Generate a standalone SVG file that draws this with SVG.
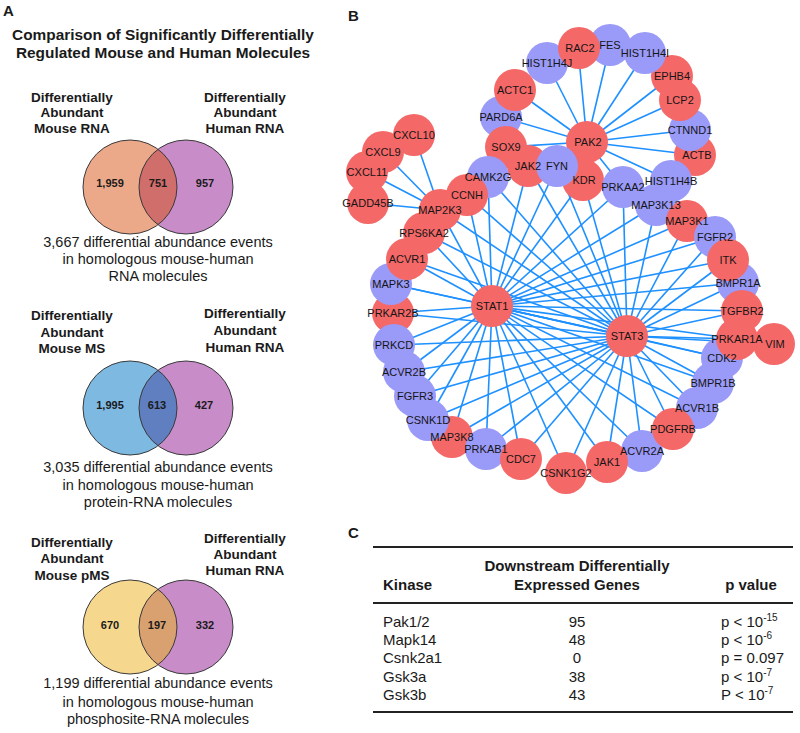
<svg xmlns="http://www.w3.org/2000/svg" width="800" height="733" viewBox="0 0 800 733">
<style>
.t{font-family:"Liberation Sans",Arial,sans-serif;fill:#1a1a1a}
.pl{font-size:15px;font-weight:700}
.ttl{font-size:15.4px;font-weight:700;text-anchor:middle}
.vl{font-size:13.5px;font-weight:700;text-anchor:middle}
.vn{font-size:11px;font-weight:700;text-anchor:middle}
.cap{font-size:14.5px;text-anchor:middle}
.th{font-size:15px;font-weight:700}
.td{font-size:15px}
.mid{text-anchor:middle}
.vs{stroke:#3a3a3a;stroke-width:1;fill:none}
.edges line{stroke:#1e90ff;stroke-width:1.6}
.nr{fill:#f56868}
.nb{fill:#9a9af8}
.nl text{font-family:"Liberation Sans",Arial,sans-serif;font-size:11px;text-anchor:middle;fill:#151515}
.rule{stroke:#222;stroke-width:2}
</style>
<defs>
<clipPath id="c1"><circle cx="130" cy="187" r="47"/></clipPath>
<clipPath id="c2"><circle cx="130" cy="408" r="47"/></clipPath>
<clipPath id="c3"><circle cx="130" cy="627" r="47"/></clipPath>
</defs>
<rect width="800" height="733" fill="#fff"/>

<g id="panelA">
<text class="t pl" x="3" y="16">A</text>
<text class="t ttl" x="163" y="40">Comparison of Significantly Differentially</text>
<text class="t ttl" x="163" y="58">Regulated Mouse and Human Molecules</text>

<g id="venn1">
<text class="t vl" x="72" y="102">Differentially</text>
<text class="t vl" x="72" y="117">Abundant</text>
<text class="t vl" x="72" y="133">Mouse RNA</text>
<text class="t vl" x="245" y="102">Differentially</text>
<text class="t vl" x="245" y="117">Abundant</text>
<text class="t vl" x="245" y="133">Human RNA</text>
<circle cx="130" cy="187" r="47" fill="#eca98a"/>
<circle cx="186" cy="187" r="47" fill="#c88dc8"/>
<circle cx="186" cy="187" r="47" fill="#d06e6c" clip-path="url(#c1)"/>
<circle class="vs" cx="130" cy="187" r="47"/>
<circle class="vs" cx="186" cy="187" r="47"/>
<text class="t vn" x="110" y="187">1,959</text>
<text class="t vn" x="158" y="187">751</text>
<text class="t vn" x="205" y="187">957</text>
<text class="t cap" x="158" y="247">3,667 differential abundance events</text>
<text class="t cap" x="158" y="264">in homologous mouse-human</text>
<text class="t cap" x="158" y="281">RNA molecules</text>
</g>

<g id="venn2">
<text class="t vl" x="72" y="320">Differentially</text>
<text class="t vl" x="72" y="337">Abundant</text>
<text class="t vl" x="72" y="353">Mouse MS</text>
<text class="t vl" x="245" y="318">Differentially</text>
<text class="t vl" x="245" y="335">Abundant</text>
<text class="t vl" x="245" y="352">Human RNA</text>
<circle cx="130" cy="408" r="47" fill="#7eb9e2"/>
<circle cx="186" cy="408" r="47" fill="#c88dc8"/>
<circle cx="186" cy="408" r="47" fill="#5f7fc0" clip-path="url(#c2)"/>
<circle class="vs" cx="130" cy="408" r="47"/>
<circle class="vs" cx="186" cy="408" r="47"/>
<text class="t vn" x="110" y="409">1,995</text>
<text class="t vn" x="157" y="409">613</text>
<text class="t vn" x="204" y="409">427</text>
<text class="t cap" x="158" y="472">3,035 differential abundance events</text>
<text class="t cap" x="158" y="490">in homologous mouse-human</text>
<text class="t cap" x="158" y="507">protein-RNA molecules</text>
</g>

<g id="venn3">
<text class="t vl" x="72" y="547">Differentially</text>
<text class="t vl" x="72" y="563">Abundant</text>
<text class="t vl" x="72" y="580">Mouse pMS</text>
<text class="t vl" x="245" y="543">Differentially</text>
<text class="t vl" x="245" y="559">Abundant</text>
<text class="t vl" x="245" y="575">Human RNA</text>
<circle cx="130" cy="627" r="47" fill="#f6d78e"/>
<circle cx="186" cy="627" r="47" fill="#c88dc8"/>
<circle cx="186" cy="627" r="47" fill="#d9a070" clip-path="url(#c3)"/>
<circle class="vs" cx="130" cy="627" r="47" stroke="#888"/>
<circle class="vs" cx="186" cy="627" r="47"/>
<text class="t vn" x="110" y="629">670</text>
<text class="t vn" x="157" y="629">197</text>
<text class="t vn" x="205" y="629">332</text>
<text class="t cap" x="158" y="688">1,199 differential abundance events</text>
<text class="t cap" x="158" y="707">in homologous mouse-human</text>
<text class="t cap" x="158" y="724">phosphosite-RNA molecules</text>
</g>
</g>

<text class="t pl" x="348" y="21">B</text>
<g id="edges" class="edges">
<line x1="492" y1="306" x2="528" y2="166"/>
<line x1="492" y1="306" x2="557" y2="166"/>
<line x1="492" y1="306" x2="583" y2="180"/>
<line x1="492" y1="306" x2="488" y2="177"/>
<line x1="492" y1="306" x2="467" y2="195"/>
<line x1="492" y1="306" x2="440" y2="210"/>
<line x1="492" y1="306" x2="424" y2="233"/>
<line x1="492" y1="306" x2="407" y2="259"/>
<line x1="492" y1="306" x2="391" y2="284"/>
<line x1="492" y1="306" x2="393" y2="313"/>
<line x1="492" y1="306" x2="394" y2="345"/>
<line x1="492" y1="306" x2="404" y2="372"/>
<line x1="492" y1="306" x2="415" y2="396"/>
<line x1="492" y1="306" x2="428" y2="420"/>
<line x1="492" y1="306" x2="452" y2="437"/>
<line x1="492" y1="306" x2="486" y2="449"/>
<line x1="492" y1="306" x2="521" y2="459"/>
<line x1="492" y1="306" x2="566" y2="473"/>
<line x1="492" y1="306" x2="607" y2="462"/>
<line x1="492" y1="306" x2="642" y2="451"/>
<line x1="492" y1="306" x2="673" y2="429"/>
<line x1="492" y1="306" x2="697" y2="408"/>
<line x1="492" y1="306" x2="713" y2="383"/>
<line x1="492" y1="306" x2="722" y2="358"/>
<line x1="492" y1="306" x2="737" y2="339"/>
<line x1="492" y1="306" x2="742" y2="311"/>
<line x1="492" y1="306" x2="738" y2="283"/>
<line x1="492" y1="306" x2="728" y2="260"/>
<line x1="492" y1="306" x2="715" y2="237"/>
<line x1="492" y1="306" x2="687" y2="221"/>
<line x1="492" y1="306" x2="656" y2="205"/>
<line x1="492" y1="306" x2="623" y2="187"/>
<line x1="492" y1="306" x2="627" y2="336"/>
<line x1="627" y1="336" x2="528" y2="166"/>
<line x1="627" y1="336" x2="557" y2="166"/>
<line x1="627" y1="336" x2="583" y2="180"/>
<line x1="627" y1="336" x2="488" y2="177"/>
<line x1="627" y1="336" x2="467" y2="195"/>
<line x1="627" y1="336" x2="440" y2="210"/>
<line x1="627" y1="336" x2="424" y2="233"/>
<line x1="627" y1="336" x2="407" y2="259"/>
<line x1="627" y1="336" x2="391" y2="284"/>
<line x1="627" y1="336" x2="393" y2="313"/>
<line x1="627" y1="336" x2="394" y2="345"/>
<line x1="627" y1="336" x2="404" y2="372"/>
<line x1="627" y1="336" x2="415" y2="396"/>
<line x1="627" y1="336" x2="428" y2="420"/>
<line x1="627" y1="336" x2="452" y2="437"/>
<line x1="627" y1="336" x2="486" y2="449"/>
<line x1="627" y1="336" x2="521" y2="459"/>
<line x1="627" y1="336" x2="566" y2="473"/>
<line x1="627" y1="336" x2="607" y2="462"/>
<line x1="627" y1="336" x2="642" y2="451"/>
<line x1="627" y1="336" x2="673" y2="429"/>
<line x1="627" y1="336" x2="697" y2="408"/>
<line x1="627" y1="336" x2="713" y2="383"/>
<line x1="627" y1="336" x2="722" y2="358"/>
<line x1="627" y1="336" x2="737" y2="339"/>
<line x1="627" y1="336" x2="774" y2="344"/>
<line x1="627" y1="336" x2="742" y2="311"/>
<line x1="627" y1="336" x2="738" y2="283"/>
<line x1="627" y1="336" x2="728" y2="260"/>
<line x1="627" y1="336" x2="715" y2="237"/>
<line x1="627" y1="336" x2="687" y2="221"/>
<line x1="627" y1="336" x2="656" y2="205"/>
<line x1="627" y1="336" x2="623" y2="187"/>
<line x1="587" y1="142" x2="578" y2="48"/>
<line x1="587" y1="142" x2="610" y2="45"/>
<line x1="587" y1="142" x2="645" y2="53"/>
<line x1="587" y1="142" x2="672" y2="76"/>
<line x1="587" y1="142" x2="680" y2="100"/>
<line x1="587" y1="142" x2="690" y2="130"/>
<line x1="587" y1="142" x2="695" y2="155"/>
<line x1="587" y1="142" x2="671" y2="181"/>
<line x1="587" y1="142" x2="547" y2="63"/>
<line x1="587" y1="142" x2="515" y2="90"/>
<line x1="587" y1="142" x2="501" y2="117"/>
<line x1="587" y1="142" x2="506" y2="147"/>
<line x1="587" y1="142" x2="623" y2="187"/>
<line x1="587" y1="142" x2="528" y2="166"/>
<line x1="587" y1="142" x2="557" y2="166"/>
<line x1="587" y1="142" x2="583" y2="180"/>
<line x1="440" y1="210" x2="414" y2="135"/>
<line x1="440" y1="210" x2="383" y2="152"/>
<line x1="440" y1="210" x2="367" y2="172"/>
<line x1="440" y1="210" x2="368" y2="203"/>
</g>

<g id="nodes">
<g id="n-HIST1H4J"><circle class="nb" cx="547" cy="63" r="21"/></g>
<g id="n-FES"><circle class="nb" cx="610" cy="45" r="21"/></g>
<g id="n-RAC2"><circle class="nr" cx="579" cy="48" r="21"/></g>
<g id="n-EPHB4"><circle class="nr" cx="672" cy="76" r="21"/></g>
<g id="n-HIST1H4I"><circle class="nb" cx="645" cy="53" r="21"/></g>
<g id="n-ACTB"><circle class="nr" cx="695" cy="155" r="21"/></g>
<g id="n-CTNND1"><circle class="nb" cx="690" cy="130" r="21"/></g>
<g id="n-LCP2"><circle class="nr" cx="680" cy="100" r="21"/></g>
<g id="n-HIST1H4B"><circle class="nb" cx="671" cy="181" r="21"/></g>
<g id="n-PARD6A"><circle class="nb" cx="501" cy="117" r="21"/></g>
<g id="n-ACTC1"><circle class="nr" cx="515" cy="90" r="21"/></g>
<g id="n-SOX9"><circle class="nr" cx="506" cy="147" r="21"/></g>
<g id="n-KDR"><circle class="nr" cx="583" cy="180" r="21"/></g>
<g id="n-PAK2"><circle class="nr" cx="587" cy="142" r="21"/></g>
<g id="n-JAK2"><circle class="nr" cx="528" cy="166" r="21"/></g>
<g id="n-FYN"><circle class="nb" cx="557" cy="166" r="21"/></g>
<g id="n-CXCL10"><circle class="nr" cx="414" cy="135" r="21"/></g>
<g id="n-CXCL9"><circle class="nr" cx="383" cy="152" r="21"/></g>
<g id="n-CXCL11"><circle class="nr" cx="367" cy="172" r="21"/></g>
<g id="n-GADD45B"><circle class="nr" cx="368" cy="203" r="21"/></g>
<g id="n-CAMK2G"><circle class="nb" cx="488" cy="177" r="21"/></g>
<g id="n-CCNH"><circle class="nr" cx="467" cy="195" r="21"/></g>
<g id="n-MAP2K3"><circle class="nr" cx="440" cy="210" r="21"/></g>
<g id="n-RPS6KA2"><circle class="nr" cx="424" cy="233" r="21"/></g>
<g id="n-PRKAR2B"><circle class="nr" cx="393" cy="313" r="21"/></g>
<g id="n-MAPK3"><circle class="nb" cx="391" cy="284" r="21"/></g>
<g id="n-ACVR1"><circle class="nr" cx="407" cy="259" r="21"/></g>
<g id="n-ACVR2B"><circle class="nb" cx="404" cy="372" r="21"/></g>
<g id="n-PRKCD"><circle class="nb" cx="394" cy="345" r="21"/></g>
<g id="n-FGFR3"><circle class="nb" cx="415" cy="396" r="21"/></g>
<g id="n-MAP3K8"><circle class="nr" cx="452" cy="437" r="21"/></g>
<g id="n-CSNK1D"><circle class="nb" cx="428" cy="420" r="21"/></g>
<g id="n-PRKAB1"><circle class="nb" cx="486" cy="449" r="21"/></g>
<g id="n-CDC7"><circle class="nr" cx="521" cy="459" r="21"/></g>
<g id="n-CSNK1G2"><circle class="nr" cx="566" cy="473" r="21"/></g>
<g id="n-ACVR2A"><circle class="nb" cx="642" cy="451" r="21"/></g>
<g id="n-JAK1"><circle class="nr" cx="607" cy="462" r="21"/></g>
<g id="n-ACVR1B"><circle class="nb" cx="697" cy="408" r="21"/></g>
<g id="n-PDGFRB"><circle class="nr" cx="673" cy="429" r="21"/></g>
<g id="n-BMPR1B"><circle class="nb" cx="713" cy="383" r="21"/></g>
<g id="n-CDK2"><circle class="nb" cx="722" cy="358" r="21"/></g>
<g id="n-VIM"><circle class="nr" cx="774" cy="344" r="21"/></g>
<g id="n-BMPR1A"><circle class="nb" cx="738" cy="283" r="21"/></g>
<g id="n-TGFBR2"><circle class="nr" cx="742" cy="311" r="21"/></g>
<g id="n-PRKAR1A"><circle class="nr" cx="737" cy="339" r="21"/></g>
<g id="n-PRKAA2"><circle class="nb" cx="623" cy="187" r="21"/></g>
<g id="n-MAP3K13"><circle class="nb" cx="656" cy="205" r="21"/></g>
<g id="n-MAP3K1"><circle class="nr" cx="687" cy="221" r="21"/></g>
<g id="n-FGFR2"><circle class="nb" cx="715" cy="237" r="21"/></g>
<g id="n-ITK"><circle class="nr" cx="728" cy="260" r="21"/></g>
<g id="n-STAT1"><circle class="nr" cx="492" cy="306" r="21"/></g>
<g id="n-STAT3"><circle class="nr" cx="627" cy="336" r="21"/></g>
</g>

<g id="node-labels" class="nl">
<text id="l-HIST1H4J" x="547" y="67">HIST1H4J</text>
<text id="l-FES" x="610" y="49">FES</text>
<text id="l-RAC2" x="580" y="52">RAC2</text>
<text id="l-EPHB4" x="672" y="80">EPHB4</text>
<text id="l-HIST1H4I" x="645" y="57">HIST1H4I</text>
<text id="l-ACTB" x="697" y="159">ACTB</text>
<text id="l-CTNND1" x="690" y="134">CTNND1</text>
<text id="l-LCP2" x="680" y="104">LCP2</text>
<text id="l-HIST1H4B" x="671" y="185">HIST1H4B</text>
<text id="l-PARD6A" x="501" y="121">PARD6A</text>
<text id="l-ACTC1" x="515" y="94">ACTC1</text>
<text id="l-SOX9" x="506" y="151">SOX9</text>
<text id="l-KDR" x="584" y="184">KDR</text>
<text id="l-PAK2" x="588" y="146">PAK2</text>
<text id="l-JAK2" x="528" y="170">JAK2</text>
<text id="l-FYN" x="557" y="170">FYN</text>
<text id="l-CXCL10" x="414" y="139">CXCL10</text>
<text id="l-CXCL9" x="383" y="156">CXCL9</text>
<text id="l-CXCL11" x="367" y="176">CXCL11</text>
<text id="l-GADD45B" x="368" y="207">GADD45B</text>
<text id="l-CAMK2G" x="488" y="181">CAMK2G</text>
<text id="l-CCNH" x="467" y="199">CCNH</text>
<text id="l-MAP2K3" x="440" y="214">MAP2K3</text>
<text id="l-RPS6KA2" x="424" y="237">RPS6KA2</text>
<text id="l-PRKAR2B" x="393" y="317">PRKAR2B</text>
<text id="l-MAPK3" x="391" y="288">MAPK3</text>
<text id="l-ACVR1" x="407" y="263">ACVR1</text>
<text id="l-ACVR2B" x="404" y="376">ACVR2B</text>
<text id="l-PRKCD" x="394" y="349">PRKCD</text>
<text id="l-FGFR3" x="415" y="400">FGFR3</text>
<text id="l-MAP3K8" x="452" y="441">MAP3K8</text>
<text id="l-CSNK1D" x="428" y="424">CSNK1D</text>
<text id="l-PRKAB1" x="486" y="453">PRKAB1</text>
<text id="l-CDC7" x="521" y="463">CDC7</text>
<text id="l-CSNK1G2" x="566" y="477">CSNK1G2</text>
<text id="l-ACVR2A" x="642" y="455">ACVR2A</text>
<text id="l-JAK1" x="607" y="466">JAK1</text>
<text id="l-ACVR1B" x="697" y="412">ACVR1B</text>
<text id="l-PDGFRB" x="673" y="433">PDGFRB</text>
<text id="l-BMPR1B" x="713" y="387">BMPR1B</text>
<text id="l-CDK2" x="722" y="362">CDK2</text>
<text id="l-VIM" x="775" y="348">VIM</text>
<text id="l-BMPR1A" x="738" y="287">BMPR1A</text>
<text id="l-TGFBR2" x="742" y="315">TGFBR2</text>
<text id="l-PRKAR1A" x="737" y="343">PRKAR1A</text>
<text id="l-PRKAA2" x="623" y="191">PRKAA2</text>
<text id="l-MAP3K13" x="656" y="209">MAP3K13</text>
<text id="l-MAP3K1" x="687" y="225">MAP3K1</text>
<text id="l-FGFR2" x="715" y="241">FGFR2</text>
<text id="l-ITK" x="728" y="264">ITK</text>
<text id="l-STAT1" x="492" y="310">STAT1</text>
<text id="l-STAT3" x="627" y="340">STAT3</text>
</g>

<g id="panelC">
<text class="t pl" x="348" y="538">C</text>
<line class="rule" x1="373" y1="547" x2="793" y2="547"/>
<text class="t th mid" x="577" y="571">Downstream Differentially</text>
<text class="t th" x="383" y="590">Kinase</text>
<text class="t th mid" x="577" y="590">Expressed Genes</text>
<text class="t th mid" x="751" y="590">p value</text>
<line class="rule" x1="373" y1="603" x2="793" y2="603" stroke-width="1.5"/>
<text class="t td" x="383" y="627">Pak1/2</text>
<text class="t td" x="383" y="645">Mapk14</text>
<text class="t td" x="383" y="663">Csnk2a1</text>
<text class="t td" x="383" y="682">Gsk3a</text>
<text class="t td" x="383" y="700">Gsk3b</text>
<text class="t td mid" x="577" y="627">95</text>
<text class="t td mid" x="577" y="645">48</text>
<text class="t td mid" x="577" y="663">0</text>
<text class="t td mid" x="577" y="682">38</text>
<text class="t td mid" x="577" y="700">43</text>
<text class="t td" x="721" y="627">p &lt; 10<tspan font-size="10" dy="-6">-15</tspan></text>
<text class="t td" x="721" y="645">p &lt; 10<tspan font-size="10" dy="-6">-6</tspan></text>
<text class="t td" x="721" y="663">p = 0.097</text>
<text class="t td" x="721" y="682">p &lt; 10<tspan font-size="10" dy="-6">-7</tspan></text>
<text class="t td" x="721" y="700">P &lt; 10<tspan font-size="10" dy="-6">-7</tspan></text>
<line class="rule" x1="373" y1="712" x2="793" y2="712"/>
</g>
</svg>
